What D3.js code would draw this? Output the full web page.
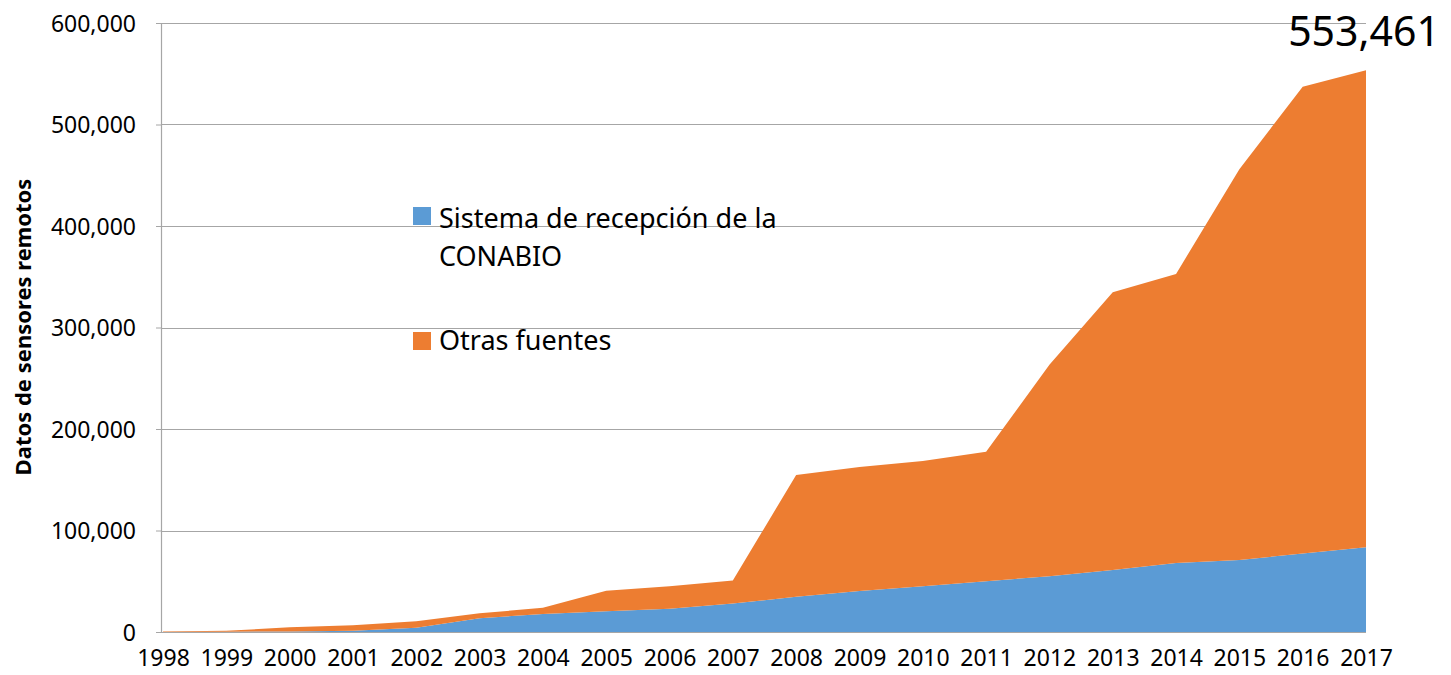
<!DOCTYPE html>
<html>
<head>
<meta charset="utf-8">
<script src="https://cdn.jsdelivr.net/npm/d3@7"></script>
<style>
  body { margin: 0; background: #fff; }
  svg text { font-family: "Noto Sans", "Open Sans", sans-serif; fill: #000; }
</style>
</head>
<body>
<svg id="chart" width="1451" height="675"></svg>
<script>
// data
var years = ["1998","1999","2000","2001","2002","2003","2004","2005","2006","2007",
             "2008","2009","2010","2011","2012","2013","2014","2015","2016","2017"];
var conabio = [0, 300, 600, 1200, 4200, 13600, 17800, 20500, 23000, 28000,
               34800, 40400, 45000, 50000, 55000, 61000, 68000, 71000, 77300, 83400];
var otras = [500, 900, 4000, 5400, 6300, 4900, 6000, 20100, 22000, 22700,
             119900, 122100, 123500, 127500, 208400, 273700, 284800, 384900, 459900, 470061];
var yTicks = [0, 100000, 200000, 300000, 400000, 500000, 600000];
var seriesNames = ["Sistema de recepción de la CONABIO", "Otras fuentes"];
var colors = ["#5B9BD5", "#ED7D31"];

var svg = d3.select("#chart");

// scales
var x = d3.scalePoint().domain(years).range([163, 1366]);
var y = d3.scaleLinear().domain([0, 600000]).range([632, 23]);

// build stacked table
var rows = years.map(function (yr, i) { return { year: yr, a: conabio[i], b: otras[i] }; });
var stacked = d3.stack().keys(["a", "b"])(rows);

// gridlines
svg.append("g")
  .selectAll("line")
  .data(yTicks.slice(1))
  .enter().append("line")
  .attr("x1", 161).attr("x2", 1366)
  .attr("y1", d => Math.round(y(d)) + 0.5).attr("y2", d => Math.round(y(d)) + 0.5)
  .attr("stroke", "#a6a6a6").attr("stroke-width", 1.2);

// areas
var area = d3.area()
  .x(d => x(d.data.year))
  .y0(d => y(d[0]))
  .y1(d => y(d[1]));

svg.append("g")
  .selectAll("path")
  .data(stacked)
  .enter().append("path")
  .attr("d", area)
  .attr("fill", (d, i) => colors[i]);

// left axis
var yAxis = d3.axisLeft(y)
  .tickValues(yTicks)
  .tickSize(5)
  .tickPadding(20)
  .tickFormat(d3.format(","));
var gy = svg.append("g").attr("transform", "translate(161,0)").call(yAxis);
gy.select(".domain").attr("stroke", "#a6a6a6").attr("stroke-width", 1.2);
gy.selectAll(".tick line").attr("stroke", "#a6a6a6");
gy.selectAll("text").style("font-size", "23px").attr("dy", "0.35em");

// bottom axis
var xAxis = d3.axisBottom(x).tickSize(0).tickPadding(18);
var gx = svg.append("g").attr("transform", "translate(0,632)").call(xAxis);
gx.select(".domain").attr("d", "M161,0.5H1366").attr("stroke", "#a6a6a6").attr("stroke-width", 1.2);
gx.selectAll("text").style("font-size", "23px");

// y axis title
svg.append("text")
  .attr("transform", "translate(31,327) rotate(-90)")
  .attr("text-anchor", "middle")
  .style("font-size", "22px")
  .style("font-weight", "bold")
  .text("Datos de sensores remotos");

// label of last total
var last = years.length - 1;
svg.append("text")
  .attr("x", x(years[last]) - 2)
  .attr("y", y(conabio[last] + otras[last]) - 24)
  .attr("text-anchor", "middle")
  .style("font-size", "41px")
  .text(d3.format(",")(conabio[last] + otras[last]));

// legend
var legend = svg.append("g");
legend.append("rect").attr("x", 413).attr("y", 207).attr("width", 18).attr("height", 18).attr("fill", colors[0]);
var t1 = legend.append("text").attr("x", 439).attr("y", 228).style("font-size", "27px");
t1.append("tspan").attr("x", 439).text("Sistema de recepción de la");
t1.append("tspan").attr("x", 439).attr("dy", 38).text("CONABIO");
legend.append("rect").attr("x", 413).attr("y", 332).attr("width", 18).attr("height", 18).attr("fill", colors[1]);
legend.append("text").attr("x", 439).attr("y", 350).style("font-size", "27px").text(seriesNames[1]);
</script>
</body>
</html>
